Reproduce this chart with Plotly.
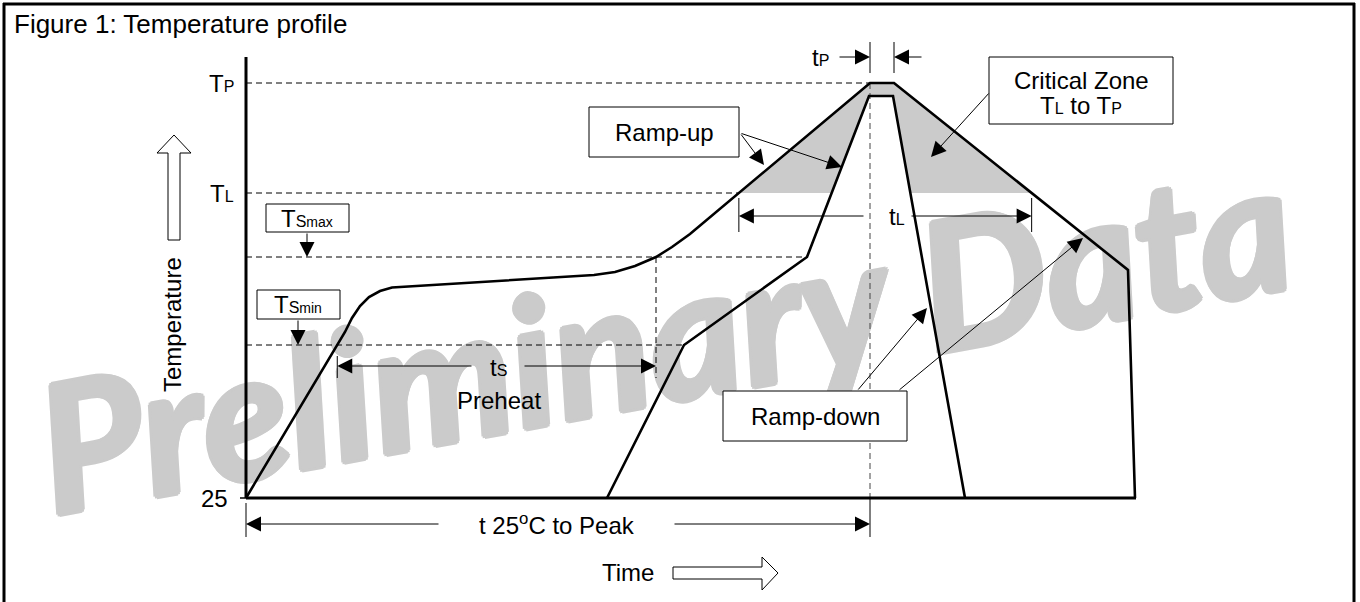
import plotly.graph_objects as go

W, H = 1360, 602
FONT = "Liberation Sans, Arial, Helvetica, sans-serif"
WM_FONT = "Lato, Liberation Sans, Arial, sans-serif"
GRAY = "#cbcbcb"
FS = 24      # main text size
SUB = 16     # small-capital subscript size

# ---- schematic levels (pixel-space units, y grows downward) ----
T_P, T_L, TS_MAX, TS_MIN, T_25 = 83, 193, 257, 345, 498
T_AXIS_TOP = 57
X_ORIGIN = 246
X_BASE_END = 1136

# ---- outer (maximum) profile ----
outer_t = [246, 345, 352, 360, 369, 380, 392, 594, 615, 635, 656, 672, 690, 870, 894, 1128, 1135]
outer_T = [498, 332, 318, 306, 297, 291, 287.5, 275, 272, 266, 257, 247, 234, 83, 83, 270, 498]

# ---- inner (minimum) profile ----
inner_t = [607, 684, 807, 869, 893, 965]
inner_T = [498, 345, 257, 96, 96, 498]

# ---- axis / level labels ----
level_labels = [f"T<span style='font-size:{SUB}px'>P</span>",
                f"T<span style='font-size:{SUB}px'>L</span>", "25"]
level_values = [T_P, T_L, T_25]


def crossings(xs, ys, level):
    out = []
    for i in range(len(xs) - 1):
        y1, y2 = ys[i], ys[i + 1]
        if y1 == level:
            out.append(xs[i])
        elif (y1 - level) * (y2 - level) < 0:
            f = (level - y1) / (y2 - y1)
            out.append(xs[i] + f * (xs[i + 1] - xs[i]))
    return out


def above(xs, ys, level):
    px, py = [], []
    for i in range(len(xs) - 1):
        x1, y1, x2, y2 = xs[i], ys[i], xs[i + 1], ys[i + 1]
        if y1 <= level:
            px.append(x1); py.append(y1)
        if (y1 - level) * (y2 - level) < 0:
            f = (level - y1) / (y2 - y1)
            px.append(x1 + f * (x2 - x1)); py.append(level)
    if ys[-1] <= level:
        px.append(xs[-1]); py.append(ys[-1])
    return px, py


tl_cross = crossings(outer_t, outer_T, T_L)
tl_left, tl_right = tl_cross[0], tl_cross[-1]
ts_left = crossings(outer_t, outer_T, TS_MIN)[0]
ts_right = crossings(outer_t, outer_T, TS_MAX)[0]
t_peak = outer_t[outer_T.index(T_P)]
t_peak_end = outer_t[len(outer_T) - 1 - outer_T[::-1].index(T_P)]
inner_min_kink = inner_t[inner_T.index(TS_MIN)]
inner_max_kink = inner_t[inner_T.index(TS_MAX)]

fig = go.Figure()

# watermark (drawn first, behind everything)
halo = ", ".join(f"{dx}px {dy}px 0 {GRAY}" for dx, dy in
                 [(3, 0), (-3, 0), (0, 3), (0, -3), (2, 2), (-2, -2), (2, -2), (-2, 2)])
wm_font = dict(family=WM_FONT, size=178, color=GRAY, weight="bold", style="italic",
               shadow=halo)
fig.add_trace(go.Bar(
    x=[664], y=[460], base=[103], width=[1340],
    marker=dict(color="rgba(0,0,0,0)", line=dict(width=0)),
    text=["<b><i>Preliminary Data</i></b>"], textposition="inside", insidetextanchor="middle",
    textangle=-10.4, constraintext="none", cliponaxis=False,
    textfont=wm_font, insidetextfont=wm_font,
    hoverinfo="skip"))

# critical zone fill
gx, gy = above(outer_t, outer_T, T_L)
fig.add_trace(go.Scatter(x=gx, y=gy, fill="toself", fillcolor=GRAY, mode="lines",
                         line=dict(width=0), hoverinfo="skip"))
wx, wy = above(inner_t, inner_T, T_L)
fig.add_trace(go.Scatter(x=wx, y=wy, fill="toself", fillcolor="white", mode="lines",
                         line=dict(width=0), hoverinfo="skip"))

DASH = "6px,4px"


def line(xs, ys, width=1, dash=None, color="black"):
    fig.add_trace(go.Scatter(x=xs, y=ys, mode="lines", hoverinfo="skip",
                             line=dict(color=color, width=width, dash=dash)))


# dashed level lines
line([X_ORIGIN, t_peak], [T_P, T_P], dash=DASH)
line([X_ORIGIN, tl_left], [T_L, T_L], dash=DASH)
line([X_ORIGIN, inner_max_kink], [TS_MAX, TS_MAX], dash=DASH)
line([X_ORIGIN, inner_min_kink], [TS_MIN, TS_MIN], dash=DASH)
line([ts_right, ts_right], [TS_MAX, 378], dash=DASH)
line([t_peak, t_peak], [T_P, T_25], dash=DASH, color="#444444")

# profiles
line(outer_t, outer_T, width=2.6)
line(inner_t, inner_T, width=2.6)

# axes
line([X_ORIGIN, X_ORIGIN], [T_AXIS_TOP, T_25], width=3)
line([X_ORIGIN, X_BASE_END], [T_25, T_25], width=3)
line([240, X_ORIGIN], [T_25, T_25], width=1.5)

# marker ticks
line([ts_left, ts_left], [356, 378])
line([tl_left, tl_left], [198, 232])
line([tl_right, tl_right], [198, 232])
line([t_peak, t_peak], [42, 73])
line([t_peak_end, t_peak_end], [42, 73])
line([X_ORIGIN, X_ORIGIN], [503, 537])
line([t_peak, t_peak], [T_25, 537])

# hollow arrows
temp_arrow_x = [174, 191, 180, 180, 168, 168, 157, 174]
temp_arrow_y = [135, 153, 153, 240, 240, 153, 153, 135]
time_arrow_x = [778, 762, 762, 673, 673, 762, 762, 778]
time_arrow_y = [573, 557, 567, 567, 579, 579, 590, 573]
for ax_, ay_ in [(temp_arrow_x, temp_arrow_y), (time_arrow_x, time_arrow_y)]:
    fig.add_trace(go.Scatter(x=ax_, y=ay_, fill="toself", fillcolor="white", mode="lines",
                             line=dict(color="black", width=1), hoverinfo="skip"))

# ---- boxes ----
boxes = [
    (589, 107, 739, 157),
    (989, 57, 1173, 124),
    (723, 391, 907, 441),
    (266, 204, 349, 232),
    (257, 290, 340, 319),
]
shapes = []
for x0, y0, x1, y1 in boxes:
    shapes.append(dict(type="rect", xref="x", yref="y", x0=x0, y0=y0, x1=x1, y1=y1,
                       line=dict(color="black", width=1), fillcolor="white", layer="above"))
# frame
shapes += [
    dict(type="line", xref="paper", yref="paper", x0=4 / W, x1=4 / W, y0=0, y1=1 - 3 / H,
         line=dict(color="black", width=3)),
    dict(type="line", xref="paper", yref="paper", x0=3 / W, x1=1355 / W, y0=1 - 4 / H, y1=1 - 4 / H,
         line=dict(color="black", width=3)),
    dict(type="line", xref="paper", yref="paper", x0=1354 / W, x1=1354 / W, y0=0, y1=1 - 3 / H,
         line=dict(color="black", width=3)),
]

annotations = []


def text(x, y, s, size=FS, xanchor="center", **kw):
    annotations.append(dict(x=x, y=y, xref="x", yref="y", text=s, showarrow=False,
                            xanchor=xanchor, yanchor="middle",
                            font=dict(family=FONT, size=size, color="black"), **kw))


def arrow(xt, yt, xa, ya):
    annotations.append(dict(x=xt, y=yt, ax=xa, ay=ya, xref="x", yref="y", axref="x", ayref="y",
                            text="", showarrow=True, arrowhead=2, arrowsize=3, arrowwidth=1,
                            arrowcolor="black", standoff=0, startstandoff=0))


annotations.append(dict(x=12 / W, y=1 - 24 / H, xref="paper", yref="paper",
                        text="Figure 1: Temperature profile", showarrow=False,
                        xanchor="left", yanchor="middle",
                        font=dict(family=FONT, size=26, color="black")))

for lab, val in zip(level_labels, level_values):
    text(236 if val != T_25 else 230, val, lab, xanchor="right")

sp = lambda s: f"<span style='font-size:{SUB}px'>{s}</span>"
text(172, 325, "Temperature", textangle=-90)
text(628, 572, "Time")
text(664, 132, "Ramp-up")
text(1081, 80, "Critical Zone")
text(1081, 105, f"T{sp('L')} to T{sp('P')}")
text(815, 416, "Ramp-down")
text(307, 218, f"T{sp('S')}<span style='font-size:14px'>max</span>")
text(298, 304, f"T{sp('S')}<span style='font-size:14px'>min</span>")
text(498, 367, f"t{sp('S')}")
text(499, 400, "Preheat")
text(897, 216, f"t{sp('L')}")
text(820, 57, f"t{sp('P')}")
text(557, 524, "t 25<sup>o</sup>C to Peak")

# dimension arrows
arrow(ts_left, 366, 473, 366)
arrow(ts_right, 366, 523, 366)
arrow(tl_left, 216, 865, 216)
arrow(tl_right, 216, 910, 216)
arrow(X_ORIGIN, 524, 440, 524)
arrow(t_peak, 524, 673, 524)
arrow(t_peak, 57, 838, 57)
arrow(t_peak_end, 57, 923, 57)
arrow(307, TS_MAX, 307, 232)
arrow(298, TS_MIN, 298, 319)
# callout arrows
arrow(764, 165, 740, 133)
arrow(842, 167, 740, 133)
arrow(931, 157, 990, 92)
arrow(927, 308, 857, 391)
arrow(1083, 238, 898, 391)

fig.update_layout(
    width=W, height=H, margin=dict(l=0, r=0, t=0, b=0),
    paper_bgcolor="white", plot_bgcolor="white", showlegend=False,
    xaxis=dict(range=[0, W], visible=False, fixedrange=True),
    yaxis=dict(range=[H, 0], visible=False, fixedrange=True),
    shapes=shapes, annotations=annotations, bargap=0,
)

fig.write_html("out.html", config={"displayModeBar": False},
               post_script="document.body.style.margin='0';")
